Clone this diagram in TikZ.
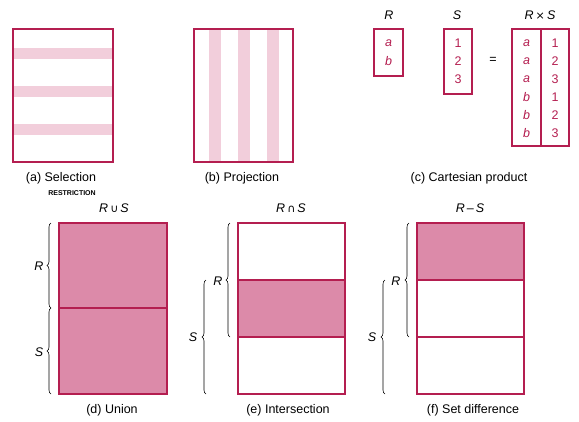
\documentclass[tikz,border=0pt]{standalone}
\usepackage{fontspec}
\setmainfont{Liberation Sans}
\newfontfamily\symfont{DejaVu Sans}
\usetikzlibrary{decorations.pathreplacing}
\definecolor{crim}{HTML}{B41E50}
\definecolor{lpink}{HTML}{F2CEDB}
\definecolor{mpink}{HTML}{DC8AA9}
\begin{document}
\begin{tikzpicture}[x=1pt,y=-1pt,
  box/.style={draw=crim,line width=1.4pt},
  stripe/.style={fill=lpink,draw=none},
  shade/.style={fill=mpink,draw=none},
  caption/.style={font=\fontsize{12.5}{14}\selectfont,text=black,inner sep=0pt},
  setl/.style={font=\fontsize{12.5}{14}\selectfont\itshape,text=black,inner sep=0pt},
  cell/.style={font=\fontsize{12.5}{14}\selectfont,text=crim,inner sep=0pt},
  brc/.style={draw=black,line width=0.6pt,decorate,decoration={brace,amplitude=4pt}}]
\useasboundingbox (0,0) rectangle (579,421);
% (a) selection
\fill[stripe] (13,48) rectangle (113,59);
\fill[stripe] (13,86) rectangle (113,97);
\fill[stripe] (13,124) rectangle (113,135);
\draw[box] (13,29) rectangle (113,162);
\node[caption] (la) at (61,178) {(a) Selection};
\node[inner sep=0pt,font=\fontsize{7}{8}\selectfont\bfseries] (restr) at (72,193) {RESTRICTION};
% (b) projection
\fill[stripe] (209,29) rectangle (221,162);
\fill[stripe] (238,29) rectangle (250,162);
\fill[stripe] (267,29) rectangle (279,162);
\draw[box] (194,29) rectangle (293,162);
\node[caption] (lb) at (242,178) {(b) Projection};
% (c) cartesian product
\node[setl] (cR) at (389,15) {R};
\node[setl] (cS) at (457,15) {S};
\node[setl] (cRS) at (540,15) {R\,{\upshape\symfont\fontsize{11}{12}\selectfont ×}\,S};
\draw[box,line width=1.2pt] (374,29) rectangle (403,76);
\node[cell,font=\fontsize{12.5}{14}\selectfont\itshape] (ra) at (388.5,43) {a};
\node[cell,font=\fontsize{12.5}{14}\selectfont\itshape] (rb) at (388.5,61) {b};
\draw[box,line width=1.2pt] (444,29) rectangle (472,94);
\node[cell] (s1) at (458,43) {1};
\node[cell] (s2) at (458,61) {2};
\node[cell] (s3) at (458,79) {3};
\node[caption] (eq) at (493,60) {=};
\draw[box,line width=1.2pt] (512,29) rectangle (569,146);
\draw[crim,line width=1.2pt] (541,29) -- (541,146);
\foreach \y/\l/\n [count=\i] in {43/a/1,61/a/2,79/a/3,97/b/1,115/b/2,133/b/3}{
  \node[cell,font=\fontsize{12.5}{14}\selectfont\itshape] (pl\i) at (526.5,\y) {\l};
  \node[cell] (pr\i) at (555,\y) {\n};
}
\node[caption] (lc) at (469,178) {(c) Cartesian product};
% (d) union
\node[setl] (tu) at (114,208) {R\,{\upshape\symfont\fontsize{11}{12}\selectfont ∪}\,S};
\fill[shade] (59,223) rectangle (167,394);
\draw[box] (59,223) rectangle (167,394);
\draw[crim,line width=1.4pt] (59,308) -- (167,308);
\draw[brc] (51,308) -- (51,223);
\draw[brc] (51,394) -- (51,308);
\node[setl] (dR) at (39,266) {R};
\node[setl] (dS) at (39,352) {S};
\node[caption] (ld) at (112,410) {(d) Union};
% (e) intersection
\node[setl] (ti) at (291,208) {R\,{\upshape\symfont\fontsize{11}{12}\selectfont ∩}\,S};
\fill[shade] (238,280) rectangle (345,337);
\draw[box] (238,223) rectangle (345,394);
\draw[crim,line width=1.4pt] (238,280) -- (345,280);
\draw[crim,line width=1.4pt] (238,337) -- (345,337);
\draw[brc] (230,337) -- (230,223);
\draw[brc] (206,394) -- (206,280);
\node[setl] (eR) at (218,281) {R};
\node[setl] (eS) at (193,337) {S};
\node[caption] (le) at (288,410) {(e) Intersection};
% (f) set difference
\node[setl] (td) at (470,208) {R\,{\upshape –}\,S};
\fill[shade] (417,223) rectangle (524,280);
\draw[box] (417,223) rectangle (524,394);
\draw[crim,line width=1.4pt] (417,280) -- (524,280);
\draw[crim,line width=1.4pt] (417,337) -- (524,337);
\draw[brc] (409,337) -- (409,223);
\draw[brc] (385,394) -- (385,280);
\node[setl] (fR) at (396,281) {R};
\node[setl] (fS) at (372,337) {S};
\node[caption] (lf) at (473,410) {(f) Set difference};
\end{tikzpicture}
\end{document}
